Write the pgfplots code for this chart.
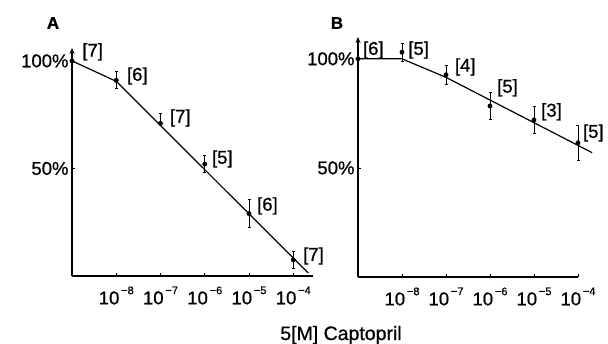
\documentclass[border=0pt]{standalone}
\usepackage{pgfplots}
\pgfplotsset{compat=1.18}
\usepackage{pgfplotstable}
\usepackage{fontspec}
\setmainfont{Liberation Sans}[FakeBold=0.8]
\usetikzlibrary{arrows.meta}

% Relative response vs. log10 of captopril concentration (mean, error, n)
\pgfplotstableread{
x    y     ep   em
-9   100   0    0
-8   91    4    4
-7   71    4.5  0
-6   52    4    4
-5   29    6.5  6.5
-4   7.5   4    4
}\dataA
\pgfplotstableread{
x    y     ep   em
-9   100   0    0
-8   103   4    4
-7   92.7  4.5  4.5
-6   78.4  6    6
-5   72    6    6
-4   61.5  8    8
}\dataB
% fitted curves
\pgfplotstableread{
x      y
-9     100
-8     90.5
-3.66  1.4
}\fitA
\pgfplotstableread{
x      y
-9     100
-8     100
-7     91.5
-3.68  57
}\fitB

\newcommand{\lbl}{\fontsize{18.5bp}{21bp}\selectfont}
\newcommand{\expo}[1]{\raisebox{0.55em}{\fontsize{11bp}{12bp}\selectfont\,#1}}

\tikzset{numlbl/.style={anchor=west, font=\lbl, inner sep=0pt}}

\pgfplotsset{
  panel/.style={
    scale only axis,
    axis x line=bottom, axis y line=left,
    axis line style={line width=1.6bp},
    x axis line style={-},
    y axis line style={-{Stealth[length=6bp,width=5bp]}},
    xmin=-9, ymin=0,
    xtick={-8,-7,-6,-5,-4},
    xticklabels={10\expo{−8},10\expo{−7},10\expo{−6},10\expo{−5},10\expo{−4}},
    ytick={50,100}, yticklabels={50\%,100\%},
    tick label style={font=\lbl},
    xticklabel style={yshift=-7bp},
    tick style={black, line width=0.8bp},
    major tick length=3bp, tick align=inside,
    clip=false,
  },
  pts/.style={black, only marks, mark=*, mark size=2.2bp,
    error bars/.cd, y dir=both, y explicit,
    error bar style={line width=0.8bp},
    error mark options={rotate=90, mark size=1.5bp, line width=0.8bp}},
  fitline/.style={black, no marks, line width=1.2bp},
}

\begin{document}
\begin{tikzpicture}
\path[use as bounding box] (0,0) rectangle (608bp,344bp);

\begin{axis}[panel, at={(72bp,68bp)}, anchor=south west,
  width=241bp, height=228bp, xmax=-3.554, ymax=106]
  \addplot[fitline] table[x=x,y=y] {\fitA};
  \addplot[pts] table[x=x,y=y,y error plus=ep,y error minus=em] {\dataA};
  \node[numlbl] at (axis cs:-8.77,104.2) {[7]};
  \node[numlbl] at (axis cs:-7.76,93) {[6]};
  \node[numlbl] at (axis cs:-6.79,73.5) {[7]};
  \node[numlbl] at (axis cs:-5.84,54.4) {[5]};
  \node[numlbl] at (axis cs:-4.82,32.6) {[6]};
  \node[numlbl] at (axis cs:-3.78,9.3) {[7]};
\end{axis}

\begin{axis}[panel, at={(358bp,67bp)}, anchor=south west,
  width=220bp, height=240bp, xmax=-4, ymax=110]
  \addplot[fitline] table[x=x,y=y] {\fitB};
  \addplot[pts] table[x=x,y=y,y error plus=ep,y error minus=em] {\dataB};
  \node[numlbl] at (axis cs:-8.89,104) {[6]};
  \node[numlbl] at (axis cs:-7.86,104) {[5]};
  \node[numlbl] at (axis cs:-6.80,96.3) {[4]};
  \node[numlbl] at (axis cs:-5.84,86.7) {[5]};
  \node[numlbl] at (axis cs:-4.84,75.7) {[3]};
  \node[numlbl] at (axis cs:-3.89,66) {[5]};
\end{axis}

\node[font=\fontsize{17bp}{20bp}\selectfont\bfseries] at (53bp,321bp) {A};
\node[font=\fontsize{17bp}{20bp}\selectfont\bfseries] at (337bp,321bp) {B};
\node[font=\fontsize{19.5bp}{22bp}\selectfont] at (341bp,9bp) {5[M] Captopril};
\end{tikzpicture}
\end{document}
